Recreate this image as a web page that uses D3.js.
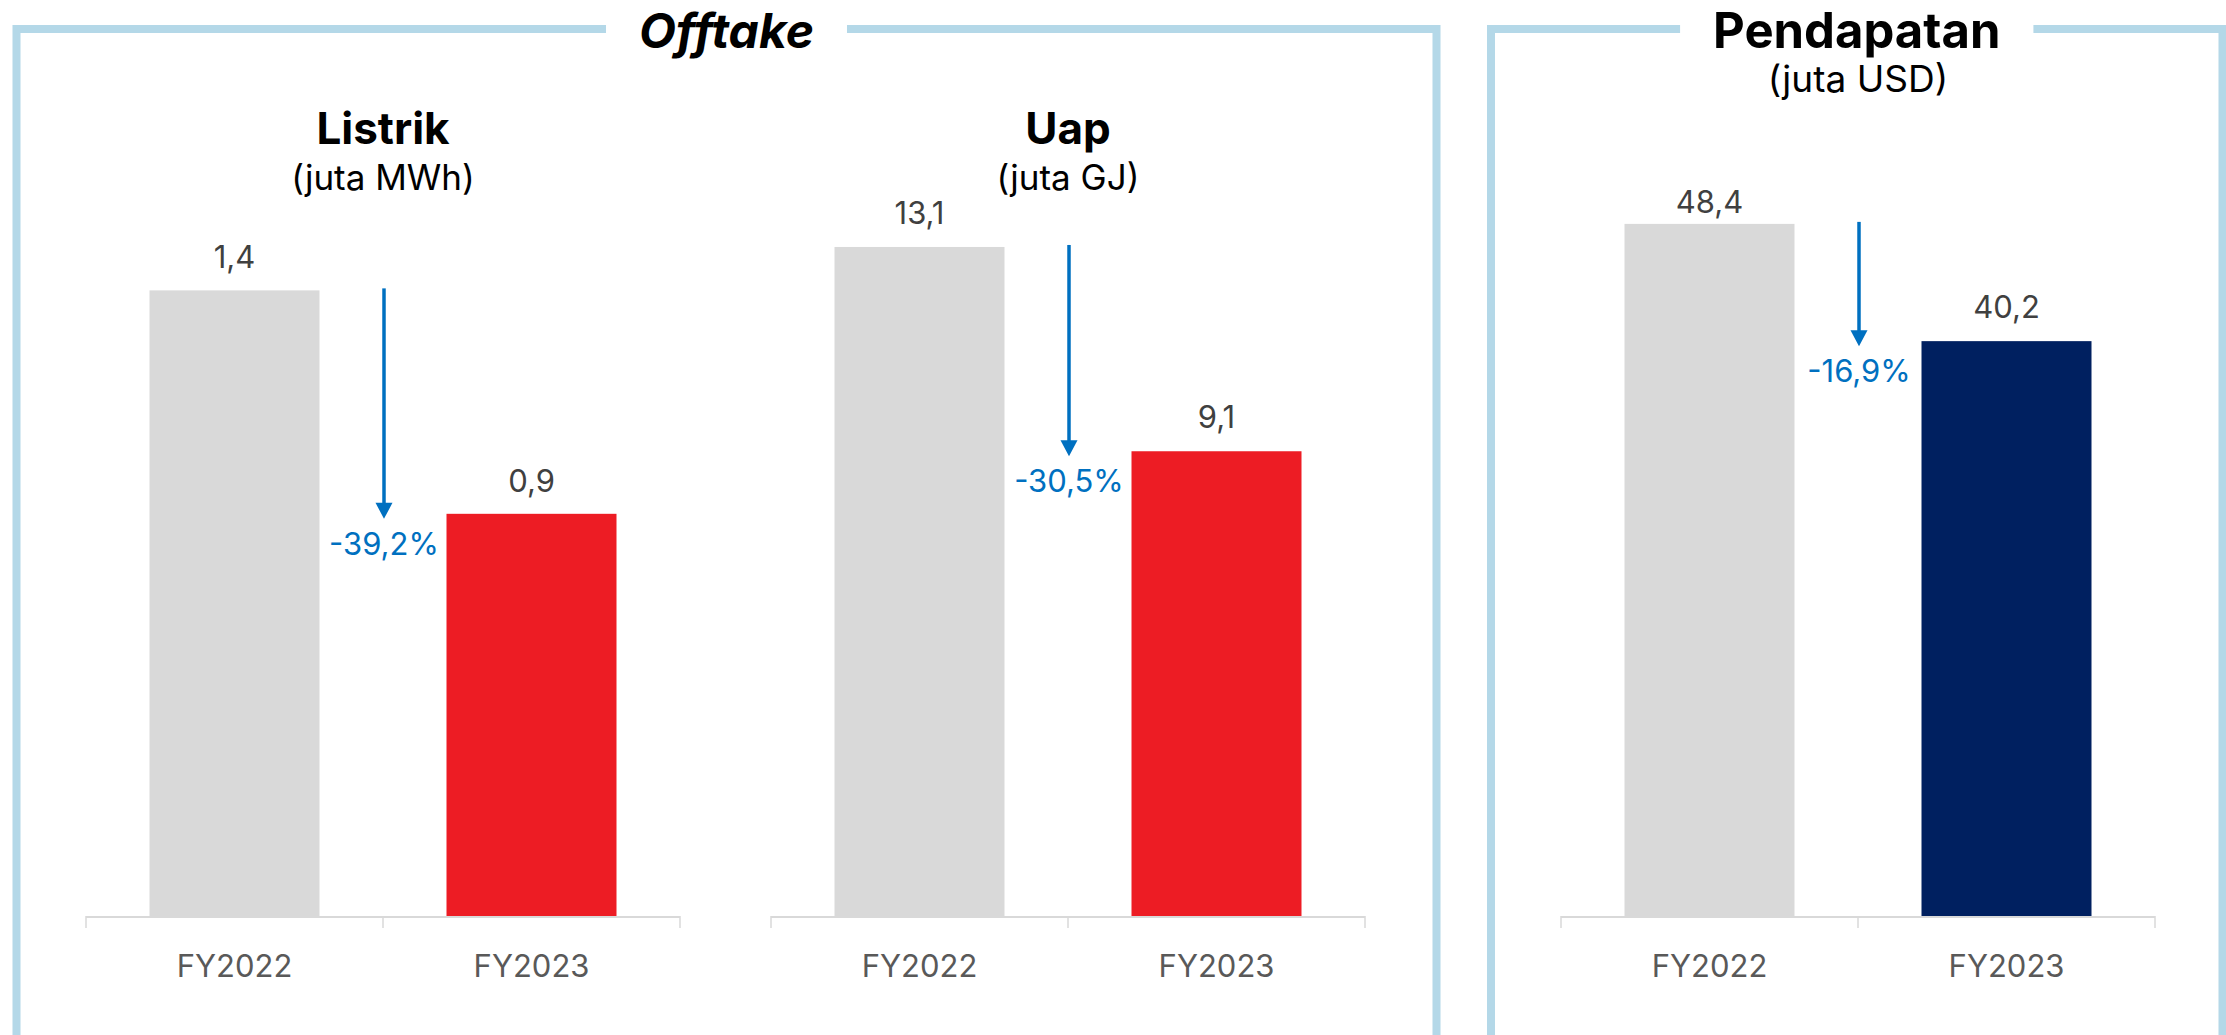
<!DOCTYPE html>
<html>
<head>
<meta charset="utf-8">
<script src="https://cdn.jsdelivr.net/npm/d3@7"></script>
<style>
  html, body { margin: 0; padding: 0; background: #ffffff; }
  svg { display: block; }
  text { font-family: Inter, "Noto Sans", sans-serif; }
</style>
</head>
<body>
<svg id="chart" width="2226" height="1035"></svg>
<script>
// ---- data ----
const categories = ["FY2022", "FY2023"];
const listrikValues = [1.4, 0.9];
const uapValues = [13.1, 9.1];
const pendapatanValues = [48.4, 40.2];
const changeLabels = ["-39,2%", "-30,5%", "-16,9%"];
const chartTitles = ["Listrik", "Uap", "Pendapatan"];
const chartUnits = ["(juta MWh)", "(juta GJ)", "(juta USD)"];
const axisMax = [1.6, 14, 50];
const panelTitles = ["Offtake", "Pendapatan"];

// ---- layout ----
const W = 2226, H = 1035;
const svg = d3.select("#chart");
svg.append("rect").attr("width", W).attr("height", H).attr("fill", "#ffffff");

const BORDER = "#b4d8e8";
const GREY = "#d9d9d9";
const plotTop = 201, plotBottom = 916;
const seriesColors = ["#ed1c24", "#ed1c24", "#002060"];
const locale = d3.formatLocale({decimal: ",", thousands: ".", grouping: [3], currency: ["", ""]});
const fmt = locale.format(".1f");

const charts = [
  {values: listrikValues, x0: 86, x1: 680, titleY: 144, unitY: 190, unitSize: 35, labelGap: [22, 22]},
  {values: uapValues, x0: 771, x1: 1365, titleY: 144, unitY: 190, unitSize: 35, labelGap: [23, 23]},
  {values: pendapatanValues, x0: 1561, x1: 2155, titleY: null, unitY: 92, unitSize: 37, labelGap: [11, 23]}
];

// ---- panels ----
const panels = [
  {x0: 16.5, x1: 1436.5, title: panelTitles[0], italic: true, size: 48},
  {x0: 1491, x1: 2222.5, title: panelTitles[1], italic: false, size: 49}
];
const borderY = 29;
panels.forEach(p => {
  const g = svg.append("g");
  const cx = (p.x0 + p.x1) / 2;
  const t = svg.append("text")
    .attr("x", cx).attr("y", 48)
    .attr("text-anchor", "middle")
    .attr("font-size", p.size).attr("font-weight", 700)
    .attr("font-style", p.italic ? "italic" : "normal")
    .attr("fill", "#000000")
    .text(p.title);
  const bb = t.node().getBBox();
  const gapL = bb.x - 33, gapR = bb.x + bb.width + 33;
  g.append("path")
    .attr("d", `M${gapL},${borderY} H${p.x0} V${H + 20} M${gapR},${borderY} H${p.x1} V${H + 20}`)
    .attr("fill", "none").attr("stroke", BORDER).attr("stroke-width", 8);
});

// ---- charts ----
charts.forEach((c, i) => {
  const g = svg.append("g");
  const x = d3.scaleBand().domain(categories).range([c.x0, c.x1])
    .paddingInner(0.4276).paddingOuter(0.2138);
  const y = d3.scaleLinear().domain([0, axisMax[i]]).range([plotBottom, plotTop]);
  const cx = (c.x0 + c.x1) / 2;

  // titles
  if (c.titleY !== null) {
    g.append("text").attr("x", cx).attr("y", c.titleY)
      .attr("text-anchor", "middle").attr("font-size", 44).attr("font-weight", 700)
      .attr("fill", "#000000").text(chartTitles[i]);
  }
  g.append("text").attr("x", cx).attr("y", c.unitY)
    .attr("text-anchor", "middle").attr("font-size", c.unitSize)
    .attr("fill", "#000000").text(chartUnits[i]);

  // bars
  const colors = [GREY, seriesColors[i]];
  g.selectAll("rect.bar").data(c.values).join("rect")
    .attr("class", "bar")
    .attr("x", (d, j) => x(categories[j]))
    .attr("width", x.bandwidth())
    .attr("y", d => y(d))
    .attr("height", d => y(0) - y(d))
    .attr("fill", (d, j) => colors[j]);

  // value labels
  g.selectAll("text.val").data(c.values).join("text")
    .attr("class", "val")
    .attr("x", (d, j) => x(categories[j]) + x.bandwidth() / 2)
    .attr("y", (d, j) => y(d) - c.labelGap[j])
    .attr("text-anchor", "middle").attr("font-size", 31).attr("fill", "#404040")
    .text(d => fmt(d));

  // axis
  const axis = d3.axisBottom(x).tickSize(0).tickPadding(39);
  const ag = g.append("g").attr("transform", `translate(0,${plotBottom})`).call(axis);
  ag.select(".domain").remove();
  ag.selectAll("text").attr("font-size", 31).attr("fill", "#595959")
    .attr("font-family", "Inter, 'Noto Sans', sans-serif");
  const mid = x(categories[1]) - x.step() * x.paddingInner() / 2;
  const bounds = [x.range()[0], mid, x.range()[1]];
  g.append("line").attr("x1", bounds[0]).attr("x2", bounds[2])
    .attr("y1", plotBottom + 1).attr("y2", plotBottom + 1)
    .attr("stroke", GREY).attr("stroke-width", 2);
  g.selectAll("line.tk").data(bounds).join("line").attr("class", "tk")
    .attr("x1", d => d).attr("x2", d => d)
    .attr("y1", plotBottom).attr("y2", plotBottom + 12)
    .attr("stroke", GREY).attr("stroke-width", 1.5);

  // change arrow
  const ax = mid + 1;
  const yStart = y(c.values[0]) - 2;
  const yTip = y(c.values[1]) + 5;
  const headH = 16, headW = 17;
  g.append("line").attr("x1", ax).attr("x2", ax)
    .attr("y1", yStart).attr("y2", yTip - headH + 2)
    .attr("stroke", "#0070c0").attr("stroke-width", 3.5);
  g.append("path")
    .attr("d", `M${ax - headW / 2},${yTip - headH} L${ax + headW / 2},${yTip - headH} L${ax},${yTip} Z`)
    .attr("fill", "#0070c0");
  g.append("text").attr("x", ax).attr("y", yTip + 36)
    .attr("text-anchor", "middle").attr("font-size", 31).attr("fill", "#0070c0")
    .text(changeLabels[i]);
});
</script>
</body>
</html>
